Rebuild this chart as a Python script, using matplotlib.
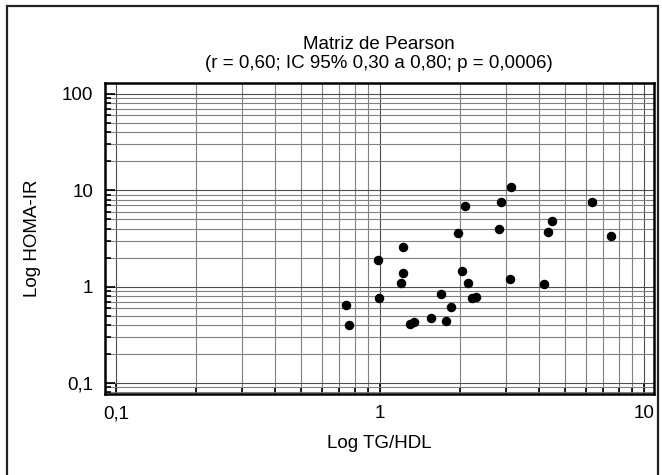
import matplotlib
matplotlib.use('Agg')
import matplotlib.pyplot as plt
from matplotlib.patches import Rectangle
from matplotlib.ticker import LogLocator, NullFormatter, FixedLocator

plt.rcParams['font.family'] = ['Liberation Sans', 'DejaVu Sans']

# TG/HDL ratio and HOMA-IR
tg_hdl = [0.74, 0.76, 0.98, 0.99, 1.22, 1.22, 1.20, 1.30, 1.34, 1.56,
          1.70, 1.77, 1.85, 1.97, 2.04, 2.09, 2.15, 2.23, 2.31, 2.82,
          2.86, 3.13, 3.09, 4.18, 4.34, 4.48, 6.34, 7.52]
homa_ir = [0.65, 0.40, 1.90, 0.77, 2.57, 1.38, 1.08, 0.41, 0.43, 0.47,
           0.84, 0.44, 0.62, 3.57, 1.47, 6.86, 1.08, 0.77, 0.79, 3.95,
           7.50, 10.75, 1.21, 1.07, 3.68, 4.79, 7.50, 3.37]

x_ticks = [0.1, 1, 10]
x_labels = ['0,1', '1', '10']
y_ticks = [0.1, 1, 10, 100]
y_labels = ['0,1', '1', '10', '100']

fs = 13.5

fig = plt.figure(figsize=(6.62, 4.75), dpi=100)
ax = fig.add_axes([0.158, 0.1705, 0.830, 0.655])

ax.scatter(tg_hdl, homa_ir, s=34, color='black', zorder=3)

ax.set_xscale('log')
ax.set_yscale('log')
ax.set_xlim(0.0904, 10.9)
ax.set_ylim(0.0769, 130)

ax.xaxis.set_major_locator(FixedLocator(x_ticks))
ax.yaxis.set_major_locator(FixedLocator(y_ticks))
ax.set_xticklabels(x_labels)
ax.set_yticklabels(y_labels)
ax.xaxis.set_minor_locator(LogLocator(base=10, subs=range(2, 10)))
ax.yaxis.set_minor_locator(LogLocator(base=10, subs=range(2, 10)))
ax.xaxis.set_minor_formatter(NullFormatter())
ax.yaxis.set_minor_formatter(NullFormatter())

ax.grid(True, which='major', color='0.3', lw=0.8)
ax.grid(True, which='minor', color='0.5', lw=0.8)
ax.set_axisbelow(True)

ax.tick_params(which='both', direction='in', color='black', width=1.2,
               labelsize=fs, top=False, right=False)
ax.tick_params(which='major', length=7, pad=8)
ax.tick_params(which='minor', length=4.5)
for sp in ax.spines.values():
    sp.set_linewidth(1.8)

ax.set_xlabel('Log TG/HDL', fontsize=fs, labelpad=9)
ax.set_ylabel('Log HOMA-IR', fontsize=fs, labelpad=15)
ax.set_title('Matriz de Pearson\n(r = 0,60; IC 95% 0,30 a 0,80; p = 0,0006)',
             fontsize=fs, pad=11, linespacing=1.15)

fig.patches.append(Rectangle((7 / 662, -0.05), 651 / 662, 1.05 - 6 / 475,
                             transform=fig.transFigure, fill=False,
                             edgecolor='#222222', lw=1.6))

fig.savefig('out.png', dpi=100)
